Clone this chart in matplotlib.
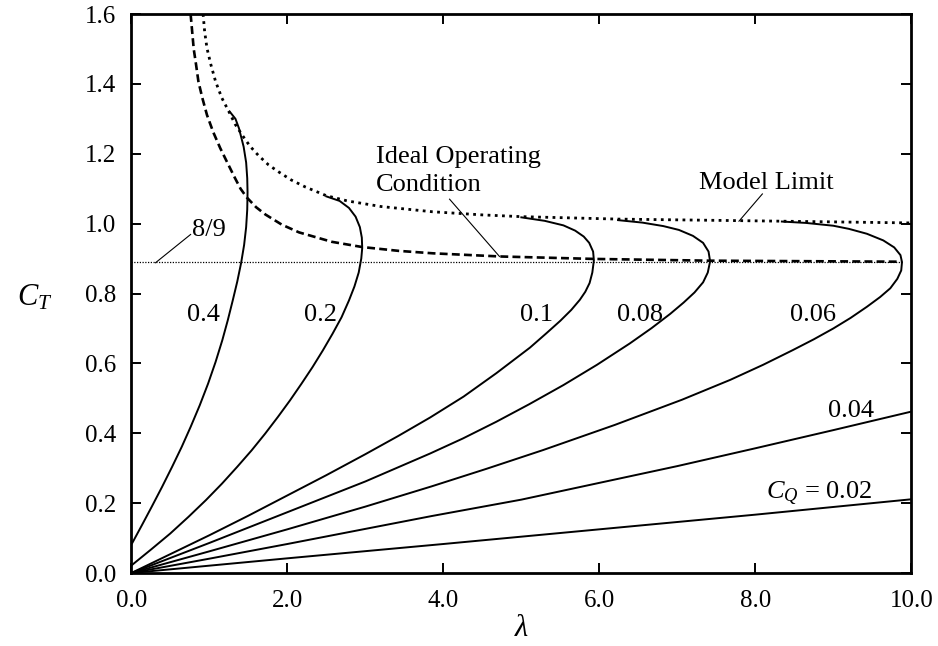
import matplotlib
matplotlib.use("Agg")
import matplotlib.pyplot as plt
from matplotlib.ticker import FormatStrFormatter, MultipleLocator

plt.rcParams["font.family"] = ["Liberation Serif", "DejaVu Serif"]
plt.rcParams["mathtext.fontset"] = "custom"
plt.rcParams["mathtext.rm"] = "Liberation Serif"
plt.rcParams["mathtext.it"] = "Liberation Serif:italic"

# constant-torque curves (C_Q), points (lambda, C_T)
cq_labels = ["0.4", "0.2", "0.1", "0.08", "0.06", "0.04", "0.02"]

lam_04 = [0.010, 0.136, 0.260, 0.393, 0.523, 0.646, 0.760, 0.877, 0.984, 1.080, 1.166, 1.236,
          1.300, 1.358, 1.408, 1.446, 1.472, 1.486, 1.490, 1.486, 1.472, 1.440, 1.380, 1.335,
          1.260]
ct_04 = [0.085, 0.137, 0.189, 0.246, 0.304, 0.361, 0.418, 0.480, 0.542, 0.604, 0.666, 0.723,
         0.780, 0.834, 0.888, 0.939, 0.990, 1.040, 1.090, 1.130, 1.175, 1.220, 1.273, 1.300,
         1.321]

lam_02 = [0.009, 0.257, 0.499, 0.734, 0.958, 1.163, 1.358, 1.542, 1.716, 1.880, 2.034, 2.182,
          2.322, 2.455, 2.580, 2.695, 2.790, 2.860, 2.915, 2.948, 2.960, 2.955, 2.930, 2.875,
          2.790, 2.670, 2.500]
ct_02 = [0.023, 0.068, 0.113, 0.161, 0.209, 0.256, 0.304, 0.351, 0.399, 0.447, 0.494, 0.542,
         0.589, 0.637, 0.685, 0.732, 0.780, 0.820, 0.860, 0.900, 0.930, 0.960, 0.990, 1.020,
         1.045, 1.065, 1.078]

lam_01 = [0.0, 0.5, 1.0, 1.5, 2.0, 2.5, 3.0, 3.42, 3.83, 4.26, 4.68, 5.11, 5.32, 5.5, 5.64,
          5.75, 5.82, 5.875, 5.91, 5.93, 5.92, 5.87, 5.80, 5.69, 5.54, 5.30, 5.0]
ct_01 = [0.0, 0.054, 0.108, 0.164, 0.222, 0.28, 0.34, 0.392, 0.445, 0.505, 0.572, 0.645,
         0.686, 0.722, 0.753, 0.782, 0.805, 0.83, 0.86, 0.895, 0.92, 0.945, 0.963, 0.98,
         0.995, 1.008, 1.018]

lam_008 = [0.0, 1.0, 2.0, 3.0, 3.83, 4.25, 4.68, 5.1, 5.54, 5.97, 6.39, 6.67, 6.91, 7.08,
           7.22, 7.33, 7.39, 7.42, 7.40, 7.33, 7.20, 7.02, 6.82, 6.55, 6.24]
ct_008 = [0.0, 0.086, 0.174, 0.262, 0.342, 0.385, 0.433, 0.483, 0.538, 0.596, 0.657, 0.701,
          0.742, 0.774, 0.803, 0.832, 0.86, 0.892, 0.92, 0.945, 0.965, 0.982, 0.993, 1.003,
          1.01]

lam_006 = [0.0, 1.0, 2.0, 3.0, 3.85, 4.55, 5.28, 6.2, 7.06, 7.68, 8.1, 8.48, 8.75, 9.0,
           9.22, 9.43, 9.60, 9.73, 9.82, 9.87, 9.88, 9.86, 9.78, 9.64, 9.43, 9.2, 9.0,
           8.65, 8.34]
ct_006 = [0.0, 0.062, 0.125, 0.19, 0.248, 0.298, 0.352, 0.424, 0.496, 0.553, 0.596, 0.638,
          0.669, 0.70, 0.73, 0.762, 0.79, 0.815, 0.842, 0.866, 0.89, 0.91, 0.932, 0.952,
          0.971, 0.985, 0.994, 1.002, 1.006]

lam_004 = [0.0, 1.0, 2.0, 3.85, 5.0, 6.0, 7.0, 8.0, 9.0, 10.0]
ct_004 = [0.0, 0.041, 0.083, 0.163, 0.21, 0.258, 0.306, 0.357, 0.409, 0.462]

lam_002 = [0.0, 2.0, 4.0, 6.0, 8.0, 10.0]
ct_002 = [0.0, 0.042, 0.083, 0.125, 0.167, 0.211]

# ideal operating condition (dashed) and model limit (dotted)
lam_ideal = [0.76, 0.78, 0.80, 0.83, 0.86, 0.91, 0.97, 1.05, 1.14, 1.23, 1.33, 1.40, 1.48,
             1.60, 1.72, 1.93, 2.15, 2.57, 2.96, 3.43, 3.87, 4.73, 5.93, 7.40, 9.88]
ct_ideal = [1.60, 1.55, 1.50, 1.455, 1.407, 1.36, 1.311, 1.262, 1.216, 1.175, 1.13, 1.10,
            1.075, 1.047, 1.026, 0.997, 0.975, 0.948, 0.933, 0.922, 0.915, 0.906, 0.899,
            0.894, 0.891]

lam_limit = [0.92, 0.94, 0.97, 1.02, 1.08, 1.16, 1.25, 1.33, 1.42, 1.52, 1.63, 1.76, 1.89,
             2.05, 2.23, 2.50, 2.77, 3.20, 3.86, 4.50, 5.0, 6.24, 8.34, 10.0]
ct_limit = [1.60, 1.55, 1.502, 1.455, 1.407, 1.36, 1.321, 1.285, 1.254, 1.222, 1.195, 1.168,
            1.148, 1.125, 1.105, 1.08, 1.065, 1.049, 1.034, 1.025, 1.02, 1.013, 1.007, 1.002]

betz_ct = 8.0 / 9.0
betz_lam = [0.0, 9.88]

curves = [(lam_04, ct_04), (lam_02, ct_02), (lam_01, ct_01), (lam_008, ct_008),
          (lam_006, ct_006), (lam_004, ct_004), (lam_002, ct_002)]
label_pos = [(0.93, 0.72), (2.42, 0.72), (5.19, 0.72), (6.52, 0.72),
             (8.74, 0.72), (9.22, 0.447)]

fig = plt.figure(figsize=(9.38, 6.46), dpi=100)
ax = fig.add_axes([0.1400, 0.1130, 0.8316, 0.8653])

ax.plot(betz_lam, [betz_ct, betz_ct], color="black", lw=0.9, linestyle=(0, (1, 1.2)), zorder=1)
ax.plot(lam_ideal, ct_ideal, color="black", lw=1.9, linestyle=(0, (3, 1.6)), zorder=2)
ax.plot(lam_limit, ct_limit, color="black", lw=2.0, linestyle=(0, (1, 1.6)), zorder=2)
for lam, ct in curves:
    ax.plot(lam, ct, color="black", lw=1.4, zorder=3)

fs = 19
for lab, (x, y) in zip(cq_labels[:-1], label_pos):
    ax.text(x, y, lab, fontsize=fs, ha="center", va="baseline")
ax.text(9.5, 0.214, r"$C_Q$ = 0.02", fontsize=fs, ha="right", va="baseline")

ax.text(1.0, 0.966, "8/9", fontsize=fs, ha="center", va="baseline")
ax.plot([0.31, 0.76], [0.888, 0.969], color="black", lw=0.8)
ax.text(3.14, 1.174, "Ideal Operating", fontsize=fs, ha="left", va="baseline")
ax.text(3.14, 1.094, "Condition", fontsize=fs, ha="left", va="baseline")
ax.plot([4.08, 4.72], [1.07, 0.906], color="black", lw=0.8)
ax.text(8.14, 1.10, "Model Limit", fontsize=fs, ha="center", va="baseline")
ax.plot([8.09, 7.79], [1.085, 1.007], color="black", lw=0.8)

ax.set_xlim(0, 10)
ax.set_ylim(0, 1.6)
ax.xaxis.set_major_locator(MultipleLocator(2))
ax.yaxis.set_major_locator(MultipleLocator(0.2))
ax.xaxis.set_major_formatter(FormatStrFormatter("%.1f"))
ax.yaxis.set_major_formatter(FormatStrFormatter("%.1f"))
ax.tick_params(direction="in", length=7, width=1.4, labelsize=18, top=True, right=True)
ax.tick_params(axis="x", pad=12)
ax.tick_params(axis="y", pad=11)
for sp in ax.spines.values():
    sp.set_linewidth(2.0)

fig.text(521 / 938, 1 - 628 / 646, "λ", fontsize=22, style="italic", ha="center", va="center")
fig.text(35 / 938, 1 - 298 / 646, r"$C_T$", fontsize=22, ha="center", va="center")

fig.savefig("out.png", dpi=100)
